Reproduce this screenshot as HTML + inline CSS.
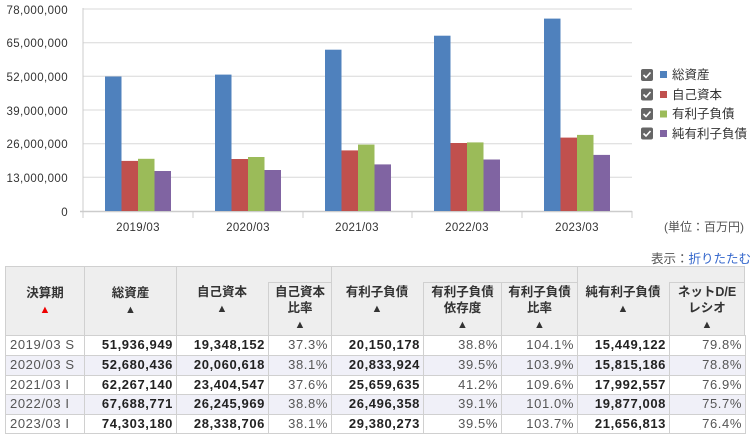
<!DOCTYPE html>
<html><head><meta charset="utf-8"><style>
body{margin:0;width:755px;height:437px;background:#fff;font-family:"Liberation Sans","Noto Sans CJK JP",sans-serif;position:relative;overflow:hidden}
.a{position:absolute}
.h{position:absolute;background:#eeeeee;border:1px solid #d0d0d0;box-sizing:border-box;font-size:12.5px;font-weight:bold;color:#333;text-align:center;line-height:16px}
.c{position:absolute;box-sizing:border-box;border:1px solid #d0d0d0;font-size:13px;letter-spacing:0.6px;color:#555;text-align:right;padding-right:3px;line-height:18px}
.b{font-weight:bold;color:#222}
.l{text-align:left;padding-left:4px}
.r2{background:#f0f0f8}
.t{font-size:11px}
.red{color:#e00}
.hd{position:absolute;text-align:center;font-size:12.5px;font-weight:bold;color:#333;line-height:16px}
</style></head><body>
<svg class="a" style="left:0;top:0" width="755" height="240" font-family="Liberation Sans, Noto Sans CJK JP, sans-serif">
<g stroke="#d8d8d8" stroke-width="1">
<line x1="83" y1="9" x2="632" y2="9"/><line x1="83" y1="42.7" x2="632" y2="42.7"/><line x1="83" y1="76.3" x2="632" y2="76.3"/><line x1="83" y1="110" x2="632" y2="110"/><line x1="83" y1="143.7" x2="632" y2="143.7"/><line x1="83" y1="177.3" x2="632" y2="177.3"/>
</g>
<line x1="83" y1="8" x2="83" y2="218" stroke="#ccc"/>
<line x1="80" y1="211.5" x2="632" y2="211.5" stroke="#ccc" stroke-width="1.5"/>
<g stroke="#ccc"><line x1="193" y1="211" x2="193" y2="218"/><line x1="303" y1="211" x2="303" y2="218"/><line x1="412" y1="211" x2="412" y2="218"/><line x1="522" y1="211" x2="522" y2="218"/><line x1="632" y1="211" x2="632" y2="218"/></g>
<g font-size="11.5" fill="#333" text-anchor="end" letter-spacing="0.4">
<text x="68" y="14">78,000,000</text><text x="68" y="47">65,000,000</text><text x="68" y="81">52,000,000</text><text x="68" y="115">39,000,000</text><text x="68" y="148">26,000,000</text><text x="68" y="182">13,000,000</text><text x="68" y="216">0</text>
</g>
<g font-size="11.5" fill="#333" text-anchor="middle" letter-spacing="0.3">
<text x="138" y="231">2019/03</text><text x="248" y="231">2020/03</text><text x="357" y="231">2021/03</text><text x="467" y="231">2022/03</text><text x="577" y="231">2023/03</text>
</g>
<text x="744" y="231" font-size="12" fill="#555" text-anchor="end">(単位：百万円)</text>
<g id="bars">
<rect x="105" y="76.5" width="16.5" height="134.5" fill="#4f81bd"/><rect x="121.5" y="160.9" width="16.5" height="50.1" fill="#c0504d"/><rect x="138" y="158.8" width="16.5" height="52.2" fill="#9bbb59"/><rect x="154.5" y="171" width="16.5" height="40" fill="#8064a2"/>
<rect x="215" y="74.6" width="16.5" height="136.4" fill="#4f81bd"/><rect x="231.5" y="159" width="16.5" height="52" fill="#c0504d"/><rect x="248" y="157" width="16.5" height="54" fill="#9bbb59"/><rect x="264.5" y="170" width="16.5" height="41" fill="#8064a2"/>
<rect x="325" y="49.7" width="16.5" height="161.3" fill="#4f81bd"/><rect x="341.5" y="150.4" width="16.5" height="60.6" fill="#c0504d"/><rect x="358" y="144.6" width="16.5" height="66.4" fill="#9bbb59"/><rect x="374.5" y="164.4" width="16.5" height="46.6" fill="#8064a2"/>
<rect x="434" y="35.7" width="16.5" height="175.3" fill="#4f81bd"/><rect x="450.5" y="143" width="16.5" height="68" fill="#c0504d"/><rect x="467" y="142.4" width="16.5" height="68.6" fill="#9bbb59"/><rect x="483.5" y="159.5" width="16.5" height="51.5" fill="#8064a2"/>
<rect x="544" y="18.6" width="16.5" height="192.4" fill="#4f81bd"/><rect x="560.5" y="137.6" width="16.5" height="73.4" fill="#c0504d"/><rect x="577" y="134.9" width="16.5" height="76.1" fill="#9bbb59"/><rect x="593.5" y="154.9" width="16.5" height="56.1" fill="#8064a2"/>
</g>
<g font-size="12.5" fill="#333">
<rect x="641" y="69" width="12" height="12" rx="2" fill="#666"/><path d="M643.5 75 l2.5 2.5 l4.5-5" stroke="#fff" stroke-width="1.6" fill="none"/><rect x="660" y="71" width="7" height="7" fill="#4f81bd"/><text x="672" y="79">総資産</text>
<rect x="641" y="88.5" width="12" height="12" rx="2" fill="#666"/><path d="M643.5 94.5 l2.5 2.5 l4.5-5" stroke="#fff" stroke-width="1.6" fill="none"/><rect x="660" y="91" width="7" height="7" fill="#c0504d"/><text x="672" y="99">自己資本</text>
<rect x="641" y="108" width="12" height="12" rx="2" fill="#666"/><path d="M643.5 114 l2.5 2.5 l4.5-5" stroke="#fff" stroke-width="1.6" fill="none"/><rect x="660" y="110.5" width="7" height="7" fill="#9bbb59"/><text x="672" y="118">有利子負債</text>
<rect x="641" y="127.5" width="12" height="12" rx="2" fill="#666"/><path d="M643.5 133.5 l2.5 2.5 l4.5-5" stroke="#fff" stroke-width="1.6" fill="none"/><rect x="660" y="130" width="7" height="7" fill="#8064a2"/><text x="672" y="138">純有利子負債</text>
</g>
</svg>
<div class="a" style="right:4px;top:248px;font-size:12.5px;color:#555">表示：<span style="color:#3366cc">折りたたむ</span></div>

<div class="h" style="left:5px;top:266px;width:80px;height:70px;padding-top:18px">決算期<br><span class="t red">▲</span></div>
<div class="h" style="left:84px;top:266px;width:93px;height:70px;padding-top:18px">総資産<br><span class="t">▲</span></div>
<div class="h" style="left:176px;top:266px;width:156px;height:70px"></div>
<div class="hd" style="left:176px;top:284px;width:92px">自己資本<br><span class="t">▲</span></div>
<div class="h" style="left:268px;top:282px;width:64px;height:54px;padding-top:1px">自己資本<br>比率<br><span class="t">▲</span></div>
<div class="h" style="left:331px;top:266px;width:247px;height:70px"></div>
<div class="hd" style="left:331px;top:284px;width:92px">有利子負債<br><span class="t">▲</span></div>
<div class="h" style="left:423px;top:282px;width:79px;height:54px;padding-top:1px">有利子負債<br>依存度<br><span class="t">▲</span></div>
<div class="h" style="left:501px;top:282px;width:77px;height:54px;padding-top:1px">有利子負債<br>比率<br><span class="t">▲</span></div>
<div class="h" style="left:577px;top:266px;width:168px;height:70px"></div>
<div class="hd" style="left:577px;top:284px;width:92px">純有利子負債<br><span class="t">▲</span></div>
<div class="h" style="left:669px;top:282px;width:76px;height:54px;padding-top:1px">ネットD/E<br>レシオ<br><span class="t">▲</span></div>

<div id="rows"></div>
<script>
var d=[["2019/03 S","51,936,949","19,348,152","37.3%","20,150,178","38.8%","104.1%","15,449,122","79.8%"],
["2020/03 S","52,680,436","20,060,618","38.1%","20,833,924","39.5%","103.9%","15,815,186","78.8%"],
["2021/03 I","62,267,140","23,404,547","37.6%","25,659,635","41.2%","109.6%","17,992,557","76.9%"],
["2022/03 I","67,688,771","26,245,969","38.8%","26,496,358","39.1%","101.0%","19,877,008","75.7%"],
["2023/03 I","74,303,180","28,338,706","38.1%","29,380,273","39.5%","103.7%","21,656,813","76.4%"]];
var xs=[5,84,176,268,331,423,501,577,669,745],bold=[0,1,1,0,1,0,0,1,0],ys=[335,355,375,394,414,433],h="";
for(var i=0;i<5;i++)for(var j=0;j<9;j++){h+='<div class="c'+(bold[j]?' b':'')+(j==0?' l':'')+(i%2?' r2':'')+'" style="left:'+xs[j]+'px;top:'+ys[i]+'px;width:'+(xs[j+1]-xs[j]+1)+'px;height:'+(ys[i+1]-ys[i]+1)+'px">'+d[i][j]+'</div>';}
document.getElementById("rows").innerHTML=h;
</script>
</body></html>
